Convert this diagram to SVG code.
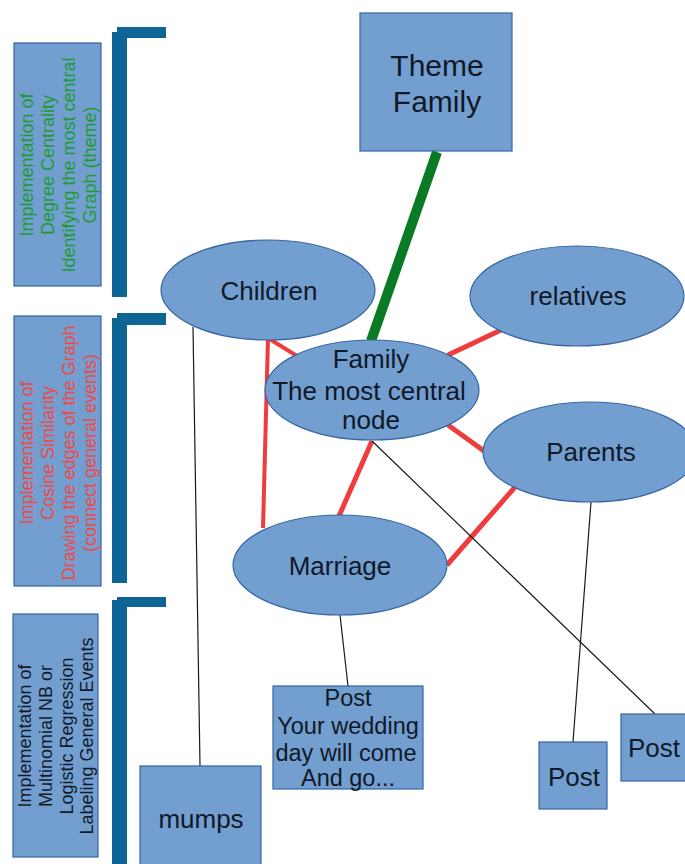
<svg xmlns="http://www.w3.org/2000/svg" width="685" height="864" viewBox="0 0 685 864">
<style>
.box{fill:#729fcf;stroke:#3465a4;stroke-width:1.2}
.bar{fill:#0f6496}
.t{font-family:"Liberation Sans",Arial,sans-serif;fill:#111827;text-anchor:middle}
.n{font-size:26px}
.w{font-size:23.5px}
.side{font-size:18px;text-anchor:middle;font-family:"Liberation Sans",Arial,sans-serif}
.red{stroke:#f03c3c;stroke-linecap:butt;fill:none}
.blk{stroke:#1a1a1a;stroke-width:1.2;fill:none}
</style>
<rect width="685" height="864" fill="#ffffff"/>

<g id="label-degree">
<rect class="box" x="14" y="43" width="87" height="243"/>
<g class="side" fill="#1f9a34">
<text transform="translate(33,165) rotate(-90)">Implementation of</text>
<text transform="translate(54,165) rotate(-90)">Degree Centrality</text>
<text transform="translate(75,165) rotate(-90)">Identifying the most central</text>
<text transform="translate(96,165) rotate(-90)">Graph (theme)</text>
</g>
</g>
<g id="bracket-1">
<rect class="bar" x="117" y="27" width="49" height="11"/>
<rect class="bar" x="112" y="32" width="15" height="265"/>
</g>

<g id="label-cosine">
<rect class="box" x="14" y="316" width="87" height="270"/>
<g class="side" fill="#f04848">
<text transform="translate(33,453) rotate(-90)">Implementation of</text>
<text transform="translate(54,453) rotate(-90)">Cosine Similarity</text>
<text transform="translate(75,453) rotate(-90)">Drawing the edges of the Graph</text>
<text transform="translate(96,453) rotate(-90)">(connect general events)</text>
</g>
</g>
<g id="bracket-2">
<rect class="bar" x="117" y="313" width="49" height="12"/>
<rect class="bar" x="112" y="318" width="15" height="265"/>
</g>

<g id="label-nb">
<rect class="box" x="13" y="614" width="85" height="243"/>
<g class="side" fill="#15192a">
<text transform="translate(31,736) rotate(-90)">Implementation of</text>
<text transform="translate(52,736) rotate(-90)">Multinomial NB or</text>
<text transform="translate(73,736) rotate(-90)">Logistic Regression</text>
<text transform="translate(93,736) rotate(-90)">Labeling General Events</text>
</g>
</g>
<g id="bracket-3">
<rect class="bar" x="117" y="597" width="49" height="10"/>
<rect class="bar" x="112" y="600" width="15" height="264"/>
</g>

<g id="connectors">
<line x1="437" y1="152" x2="371" y2="341" stroke="#0a7a24" stroke-width="10"/>
<polyline class="red" points="297,356 268,338 263,528" stroke-width="4"/>
<line class="red" x1="448" y1="355" x2="501" y2="330" stroke-width="5"/>
<line class="red" x1="448" y1="425" x2="484" y2="451" stroke-width="5"/>
<line class="red" x1="372" y1="441" x2="339" y2="516" stroke-width="5"/>
<line class="red" x1="515" y1="487" x2="447" y2="565" stroke-width="5"/>
<line class="blk" x1="193" y1="327" x2="200" y2="766"/>
<line class="blk" x1="372" y1="441" x2="655" y2="714"/>
<line class="blk" x1="591" y1="502" x2="573" y2="742"/>
<line class="blk" x1="340" y1="615" x2="348" y2="686"/>
</g>

<g id="theme-family">
<rect class="box" x="360" y="13" width="152" height="138"/>
<text class="t" x="437" y="76" font-size="30">Theme</text>
<text class="t" x="437" y="112" font-size="30">Family</text>
</g>

<g id="children">
<ellipse class="box" cx="268" cy="290" rx="107" ry="50"/>
<text class="t n" x="269" y="300">Children</text>
</g>
<g id="relatives">
<ellipse class="box" cx="577" cy="296" rx="107" ry="50"/>
<text class="t n" x="578" y="305">relatives</text>
</g>
<g id="family">
<ellipse class="box" cx="372" cy="390" rx="107" ry="50"/>
<text class="t n" x="371" y="368">Family</text>
<text class="t n" x="369" y="400">The most central</text>
<text class="t n" x="371" y="429">node</text>
</g>
<g id="parents">
<ellipse class="box" cx="590" cy="452" rx="107" ry="50"/>
<text class="t n" x="591" y="461">Parents</text>
</g>
<g id="marriage">
<ellipse class="box" cx="340" cy="565" rx="107" ry="50"/>
<text class="t n" x="340" y="575">Marriage</text>
</g>

<g id="post-wedding">
<rect class="box" x="273" y="686" width="150" height="103"/>
<text class="t w" x="348" y="706">Post</text>
<text class="t w" x="348" y="734">Your wedding</text>
<text class="t w" x="346" y="761">day will come</text>
<text class="t w" x="348" y="786">And go...</text>
</g>
<g id="mumps">
<rect class="box" x="140" y="766" width="121" height="104"/>
<text class="t n" x="201" y="828">mumps</text>
</g>
<g id="post-mid">
<rect class="box" x="539" y="742" width="68" height="67"/>
<text class="t n" x="574" y="786">Post</text>
</g>
<g id="post-right">
<rect class="box" x="621" y="714" width="70" height="67"/>
<text class="t n" x="654" y="757">Post</text>
</g>
</svg>
